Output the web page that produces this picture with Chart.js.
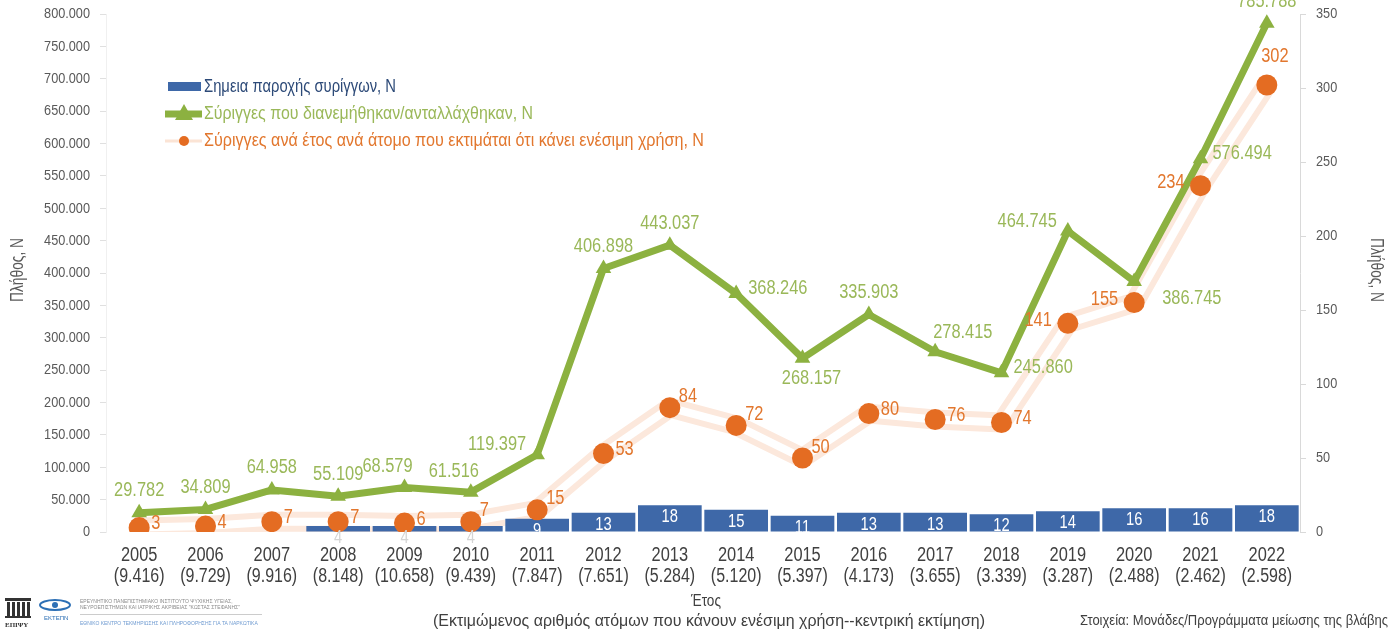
<!DOCTYPE html>
<html>
<head>
<meta charset="utf-8">
<script src="https://cdn.jsdelivr.net/npm/chart.js@4/dist/chart.umd.min.js"></script>
<style>
  html, body { margin: 0; padding: 0; background: #fff; }
  #wrap { position: relative; width: 1395px; height: 633px; }
</style>
</head>
<body>
<div id="wrap"><canvas id="SyringeChart" width="1395" height="633"></canvas></div>
<script>
// years and estimated number of people who inject (central estimate)
const years = ['2005', '2006', '2007', '2008', '2009', '2010', '2011', '2012', '2013',
    '2014', '2015', '2016', '2017', '2018', '2019', '2020', '2021', '2022'];
const estimatedUsers = ['9.416', '9.729', '9.916', '8.148', '10.658', '9.439', '7.847', '7.651', '5.284',
    '5.120', '5.397', '4.173', '3.655', '3.339', '3.287', '2.488', '2.462', '2.598'];

// syringe provision points (right axis)
const provisionPoints = [null, null, null, 4, 4, 4, 9, 13, 18, 15, 11, 13, 13, 12, 14, 16, 16, 18];
// syringes distributed / exchanged (left axis)
const syringesDistributed = [29782, 34809, 64958, 55109, 68579, 61516, 119397, 406898, 443037,
    368246, 268157, 335903, 278415, 245860, 464745, 386745, 576494, 785788];
// syringes per year per person who injects (right axis)
const syringesPerPerson = [3, 4, 7, 7, 6, 7, 15, 53, 84, 72, 50, 80, 76, 74, 141, 155, 234, 302];

// where each value label sits relative to its point
const greenLabelPos = ['top', 'top', 'top', 'top', 'topleft', 'topleft', 'left', 'top', 'top',
    'right', 'bottom', 'top', 'topright', 'right', 'left', 'bottomright', 'right', 'top'];
const orangeLabelPos = ['right', 'right', 'right', 'right', 'right', 'topright', 'topright', 'right', 'topright',
    'topright', 'topright', 'right', 'right', 'right', 'left', 'left', 'left', 'top'];

const FONT = "'Liberation Sans', Arial, sans-serif";
const NARROW = 0.82;   // squeeze Liberation Sans to look like Arial Narrow
const BLUE = '#3e68a8';
const GREEN = '#8cb140';
const GREEN_TXT = '#9ab859';
const ORANGE = '#e46c22';
const ORANGE_TXT = '#e2772e';
const GREY = '#595959';

function fmt(v) {
    return String(v).replace(/\B(?=(\d{3})+(?!\d))/g, '.');
}

// draw condensed text; if width is given the text is squeezed to that width
function narrowText(ctx, text, x, y, size, color, align, width, rot) {
    ctx.save();
    ctx.font = size + 'px ' + FONT;
    ctx.fillStyle = color;
    ctx.textAlign = align;
    ctx.textBaseline = 'middle';
    let sx = NARROW;
    if (width) sx = width / ctx.measureText(text).width;
    ctx.translate(x, y);
    if (rot) ctx.rotate(rot);
    ctx.scale(sx, 1);
    ctx.fillText(text, 0, 0);
    ctx.restore();
}

const offsets = {
    top: { dx: 0, dy: -22, align: 'center' },
    topleft: { dx: -17, dy: -21, align: 'center' },
    left: { dx: -11, dy: -10, align: 'right' },
    right: { dx: 12, dy: -5, align: 'left' },
    bottom: { dx: 9, dy: 20, align: 'center' },
    topright: { dx: -2, dy: -19, align: 'left' },
    bottomright: { dx: 28, dy: 17, align: 'left' }
};
const orangeOffsets = {
    right: { dx: 12, dy: -4, align: 'left' },
    topright: { dx: 9, dy: -11, align: 'left' },
    left: { dx: -16, dy: -3, align: 'right' },
    top: { dx: 8, dy: -29, align: 'center' }
};

const valueLabels = {
    id: 'valueLabels',
    afterDatasetsDraw(chart) {
        const ctx = chart.ctx;
        // bars
        let meta = chart.getDatasetMeta(2);
        meta.data.forEach((el, i) => {
            const v = provisionPoints[i];
            if (v == null) return;
            narrowText(ctx, String(v), el.x, el.y + 12, 18, v < 8 ? '#d4d4d4' : '#ffffff', 'center');
        });
        // green line
        meta = chart.getDatasetMeta(3);
        meta.data.forEach((el, i) => {
            const o = offsets[greenLabelPos[i]];
            narrowText(ctx, fmt(syringesDistributed[i]), el.x + o.dx, el.y + o.dy, 20, GREEN_TXT, o.align);
        });
        // orange points
        meta = chart.getDatasetMeta(4);
        meta.data.forEach((el, i) => {
            const o = orangeOffsets[orangeLabelPos[i]];
            narrowText(ctx, String(syringesPerPerson[i]), el.x + o.dx, el.y + o.dy, 20, ORANGE_TXT, o.align);
        });
    }
};

const axisText = {
    id: 'axisText',
    afterDraw(chart) {
        const ctx = chart.ctx;
        const sy = chart.scales.y, sy1 = chart.scales.y1, sx = chart.scales.x;
        sy.ticks.forEach(t => {
            narrowText(ctx, fmt(t.value), 90, sy.getPixelForValue(t.value), 15.5, GREY, 'right');
        });
        sy1.ticks.forEach(t => {
            narrowText(ctx, String(t.value), 1316, sy1.getPixelForValue(t.value), 15.5, GREY, 'left');
        });
        years.forEach((y, i) => {
            const x = sx.getPixelForTick(i);
            narrowText(ctx, y, x, 555, 20, '#404040', 'center');
            narrowText(ctx, '(' + estimatedUsers[i] + ')', x, 577, 19.5, '#404040', 'center');
        });
        // axis titles
        narrowText(ctx, 'Πλήθος, Ν', 18, 270, 18, GREY, 'center', 64, -Math.PI / 2);
        narrowText(ctx, 'Πλήθος, Ν', 1376, 270, 18, GREY, 'center', 64, Math.PI / 2);
        narrowText(ctx, 'Έτος', 706, 601, 17, '#404040', 'center', 30);
        narrowText(ctx, '(Εκτιμώμενος αριθμός ατόμων που κάνουν ενέσιμη χρήση--κεντρική εκτίμηση)', 709, 621, 17, '#404040', 'center', 552);
        narrowText(ctx, 'Στοιχεία: Μονάδες/Προγράμματα μείωσης της βλάβης', 1388, 621, 15, '#404040', 'right', 308);
    }
};

const extras = {
    id: 'extras',
    afterDraw(chart) {
        const ctx = chart.ctx;
        ctx.save();
        // legend
        ctx.fillStyle = BLUE;
        ctx.fillRect(168, 82, 33, 9);
        ctx.strokeStyle = GREEN;
        ctx.lineWidth = 7;
        ctx.beginPath(); ctx.moveTo(165, 114); ctx.lineTo(202, 114); ctx.stroke();
        ctx.fillStyle = GREEN;
        ctx.beginPath(); ctx.moveTo(184, 104); ctx.lineTo(193, 120); ctx.lineTo(175, 120); ctx.closePath(); ctx.fill();
        ctx.strokeStyle = '#fbe4d5';
        ctx.lineWidth = 3;
        ctx.beginPath(); ctx.moveTo(165, 141); ctx.lineTo(202, 141); ctx.stroke();
        ctx.fillStyle = ORANGE;
        ctx.beginPath(); ctx.arc(184, 141, 5, 0, Math.PI * 2); ctx.fill();
        ctx.restore();

        narrowText(ctx, 'Σημεια παροχής συρίγγων, Ν', 204, 87, 18, '#2d4a78', 'left', 192);
        narrowText(ctx, 'Σύριγγες που διανεμήθηκαν/ανταλλάχθηκαν, Ν', 204, 114, 18, GREEN_TXT, 'left', 329);
        narrowText(ctx, 'Σύριγγες ανά έτος ανά άτομο που εκτιμάται ότι κάνει ενέσιμη χρήση, Ν', 204, 141, 18, ORANGE_TXT, 'left', 500);

        // logos (rough)
        ctx.save();
        ctx.fillStyle = '#333';
        ctx.fillRect(5, 598, 26, 3);
        for (let k = 0; k < 5; k++) ctx.fillRect(7 + k * 5, 602, 3, 14);
        ctx.fillRect(5, 616, 26, 2);
        ctx.textAlign = 'left';
        ctx.textBaseline = 'middle';
        ctx.font = 'bold 7px serif';
        ctx.fillText('ΕΠΙΨΥ', 5, 625);
        ctx.strokeStyle = '#2c6fb5';
        ctx.lineWidth = 2;
        ctx.beginPath(); ctx.ellipse(55, 605, 15, 5, 0, 0, Math.PI * 2); ctx.stroke();
        ctx.fillStyle = '#2c6fb5';
        ctx.beginPath(); ctx.arc(55, 605, 3, 0, Math.PI * 2); ctx.fill();
        ctx.font = '6px ' + FONT;
        ctx.fillText('ΕΚΤΕΠΝ', 44, 618);
        ctx.fillStyle = '#8a8a8a';
        ctx.font = '5px ' + FONT;
        ctx.fillText('ΕΡΕΥΝΗΤΙΚΟ ΠΑΝΕΠΙΣΤΗΜΙΑΚΟ ΙΝΣΤΙΤΟΥΤΟ ΨΥΧΙΚΗΣ ΥΓΕΙΑΣ,', 80, 602);
        ctx.fillText('ΝΕΥΡΟΕΠΙΣΤΗΜΩΝ ΚΑΙ ΙΑΤΡΙΚΗΣ ΑΚΡΙΒΕΙΑΣ "ΚΩΣΤΑΣ ΣΤΕΦΑΝΗΣ"', 80, 608);
        ctx.fillStyle = '#6f9bd1';
        ctx.fillText('ΕΘΝΙΚΟ ΚΕΝΤΡΟ ΤΕΚΜΗΡΙΩΣΗΣ ΚΑΙ ΠΛΗΡΟΦΟΡΗΣΗΣ ΓΙΑ ΤΑ ΝΑΡΚΩΤΙΚΑ', 80, 624);
        ctx.strokeStyle = '#ccc';
        ctx.lineWidth = 1;
        ctx.beginPath(); ctx.moveTo(80, 614.5); ctx.lineTo(262, 614.5); ctx.stroke();
        ctx.restore();
    }
};

Chart.defaults.font.family = FONT;

let ctx = document.getElementById('SyringeChart').getContext('2d');
let chart = new Chart(ctx, {
    data: {
        labels: years,
        datasets: [
            {   // faint band behind the per-person points
                type: 'line',
                data: syringesPerPerson,
                yAxisID: 'y1',
                borderColor: '#fce8dc',
                borderWidth: 20,
                borderJoinStyle: 'round',
                pointRadius: 0,
                order: 10
            },
            {
                type: 'line',
                data: syringesPerPerson,
                yAxisID: 'y1',
                borderColor: '#ffffff',
                borderWidth: 8,
                borderJoinStyle: 'round',
                pointRadius: 0,
                order: 9
            },
            {
                type: 'bar',
                label: 'Σημεια παροχής συρίγγων, Ν',
                data: provisionPoints,
                yAxisID: 'y1',
                backgroundColor: BLUE,
                barPercentage: 0.96,
                categoryPercentage: 1,
                order: 3
            },
            {
                type: 'line',
                label: 'Σύριγγες που διανεμήθηκαν/ανταλλάχθηκαν, Ν',
                data: syringesDistributed,
                yAxisID: 'y',
                borderColor: GREEN,
                backgroundColor: GREEN,
                borderWidth: 7,
                borderJoinStyle: 'round',
                pointStyle: 'triangle',
                pointRadius: 9,
                pointBorderWidth: 0,
                order: 2
            },
            {
                type: 'line',
                label: 'Σύριγγες ανά έτος ανά άτομο που εκτιμάται ότι κάνει ενέσιμη χρήση, Ν',
                data: syringesPerPerson,
                yAxisID: 'y1',
                showLine: false,
                pointRadius: 10.5,
                pointBorderWidth: 0,
                backgroundColor: ORANGE,
                borderColor: ORANGE,
                order: 1
            }
        ]
    },
    options: {
        responsive: false,
        animation: false,
        layout: { padding: { top: 14, left: 0, right: 0, bottom: 0 } },
        plugins: {
            legend: { display: false },
            tooltip: { enabled: false }
        },
        scales: {
            x: {
                grid: { display: false },
                border: { display: false },
                ticks: { display: false, autoSkip: false },
                afterFit: s => { s.height = 101; }
            },
            y: {
                position: 'left',
                min: 0,
                max: 800000,
                ticks: { stepSize: 50000, display: false },
                grid: { drawOnChartArea: false, tickLength: 6, color: '#e0e0e0' },
                border: { color: '#f0f0f0' },
                afterFit: s => { s.width = 106; }
            },
            y1: {
                position: 'right',
                min: 0,
                max: 350,
                ticks: { stepSize: 50, display: false },
                grid: { drawOnChartArea: false, tickLength: 6, color: '#d9d9d9' },
                border: { color: '#d9d9d9' },
                afterFit: s => { s.width = 95; }
            }
        }
    },
    plugins: [valueLabels, axisText, extras]
});
</script>
</body>
</html>
